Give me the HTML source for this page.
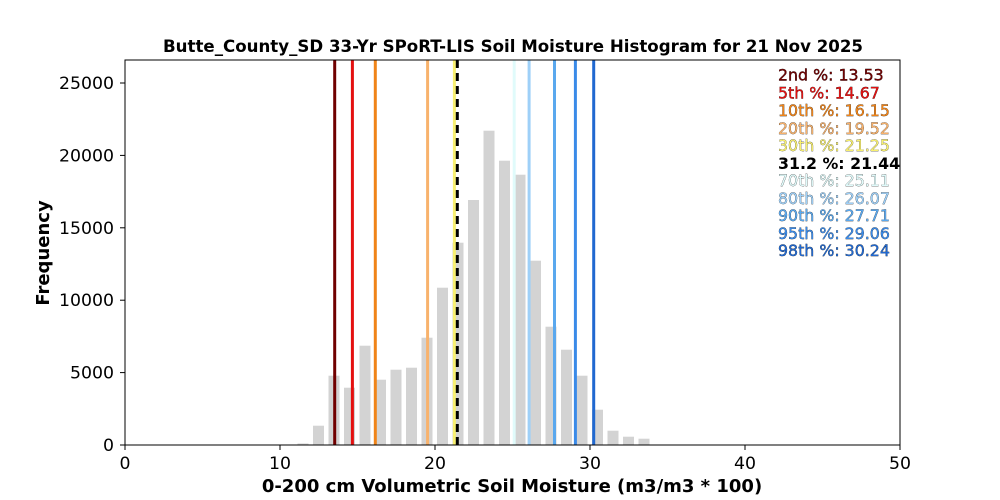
<!DOCTYPE html>
<html><head><meta charset="utf-8"><style>body{margin:0;background:#fff}svg{display:block;font-family:"DejaVu Sans","Liberation Sans",sans-serif}</style></head><body>
<svg width="1000" height="500" viewBox="0 0 1000 500">
<rect width="1000" height="500" fill="#fff"/>
<text x="513" y="52" text-anchor="middle" font-size="16.6" font-weight="bold" textLength="700" lengthAdjust="spacingAndGlyphs">Butte_County_SD 33-Yr SPoRT-LIS Soil Moisture Histogram for 21 Nov 2025</text>
<g fill="#d3d3d3">
<rect x="297.5" y="443.5" width="11" height="1.5"/>
<rect x="313" y="425.7" width="11" height="19.3"/>
<rect x="328.5" y="375.7" width="11" height="69.3"/>
<rect x="344" y="387.7" width="11" height="57.3"/>
<rect x="359.5" y="345.7" width="11" height="99.3"/>
<rect x="375" y="379.7" width="11" height="65.3"/>
<rect x="390.5" y="369.7" width="11" height="75.3"/>
<rect x="406" y="367.7" width="11" height="77.3"/>
<rect x="421.5" y="337.7" width="11" height="107.3"/>
<rect x="437" y="287.7" width="11" height="157.3"/>
<rect x="452.5" y="242.7" width="11" height="202.3"/>
<rect x="468" y="200" width="11" height="245"/>
<rect x="483.5" y="130.7" width="11" height="314.3"/>
<rect x="499" y="160.7" width="11" height="284.3"/>
<rect x="514.5" y="174.7" width="11" height="270.3"/>
<rect x="530" y="260.7" width="11" height="184.3"/>
<rect x="545.5" y="326.7" width="11" height="118.3"/>
<rect x="561" y="349.7" width="11" height="95.3"/>
<rect x="576.5" y="375.7" width="11" height="69.3"/>
<rect x="592" y="409.7" width="11" height="35.3"/>
<rect x="607.5" y="430.7" width="11" height="14.3"/>
<rect x="623" y="436.7" width="11" height="8.3"/>
<rect x="638.5" y="438.7" width="11" height="6.3"/>
</g>
<g stroke-width="3">
<line x1="334.7" y1="60" x2="334.7" y2="445" stroke="#700000"/>
<line x1="352.4" y1="60" x2="352.4" y2="445" stroke="#e41010"/>
<line x1="375.3" y1="60" x2="375.3" y2="445" stroke="#f08418"/>
<line x1="427.6" y1="60" x2="427.6" y2="445" stroke="#f8b26c"/>
<line x1="454.4" y1="60" x2="454.4" y2="445" stroke="#f8f070"/>
<line x1="457.3" y1="60" x2="457.3" y2="445" stroke="#000" stroke-dasharray="8,5"/>
<line x1="514.2" y1="60" x2="514.2" y2="445" stroke="#e0fbfb"/>
<line x1="529.1" y1="60" x2="529.1" y2="445" stroke="#9ed0f8"/>
<line x1="554.5" y1="60" x2="554.5" y2="445" stroke="#5aa8ee"/>
<line x1="575.4" y1="60" x2="575.4" y2="445" stroke="#3a8ae8"/>
<line x1="593.7" y1="60" x2="593.7" y2="445" stroke="#2068d0"/>
</g>
<rect x="125" y="60" width="775" height="385" fill="none" stroke="#000" stroke-width="1"/>
<g stroke="#000" stroke-width="1">
<line x1="125" y1="445" x2="125" y2="450"/><line x1="280" y1="445" x2="280" y2="450"/><line x1="435" y1="445" x2="435" y2="450"/><line x1="590" y1="445" x2="590" y2="450"/><line x1="745" y1="445" x2="745" y2="450"/><line x1="900" y1="445" x2="900" y2="450"/>
<line x1="120" y1="445" x2="125" y2="445"/><line x1="120" y1="372.6" x2="125" y2="372.6"/><line x1="120" y1="300.2" x2="125" y2="300.2"/><line x1="120" y1="227.8" x2="125" y2="227.8"/><line x1="120" y1="155.4" x2="125" y2="155.4"/><line x1="120" y1="83" x2="125" y2="83"/>
</g>
<g font-size="17.3" text-anchor="middle">
<text x="125" y="469">0</text><text x="280" y="469">10</text><text x="435" y="469">20</text><text x="590" y="469">30</text><text x="745" y="469">40</text><text x="900" y="469">50</text>
</g>
<g font-size="17.3" text-anchor="end">
<text x="114" y="451">0</text><text x="114" y="378.6">5000</text><text x="114" y="306.2">10000</text><text x="114" y="233.8">15000</text><text x="114" y="161.4">20000</text><text x="114" y="89">25000</text>
</g>
<text x="512" y="492" text-anchor="middle" font-size="18" font-weight="bold">0-200 cm Volumetric Soil Moisture (m3/m3 * 100)</text>
<text transform="translate(49,253) rotate(-90)" text-anchor="middle" font-size="18" font-weight="bold">Frequency</text>
<g font-size="15.8" stroke="#000" stroke-width="0.4" paint-order="stroke">
<text x="778" y="80.5" fill="#700000">2nd %: 13.53</text>
<text x="778" y="98.5" fill="#e41010">5th %: 14.67</text>
<text x="778" y="116" fill="#f08418">10th %: 16.15</text>
<text x="778" y="134" fill="#f8b26c">20th %: 19.52</text>
<text x="778" y="151" fill="#f8f070">30th %: 21.25</text>
<text x="778" y="169" fill="#000" font-weight="bold" stroke="none">31.2 %: 21.44</text>
<text x="778" y="186" fill="#e0fbfb">70th %: 25.11</text>
<text x="778" y="204" fill="#9ed0f8">80th %: 26.07</text>
<text x="778" y="221" fill="#5aa8ee">90th %: 27.71</text>
<text x="778" y="239" fill="#3a8ae8">95th %: 29.06</text>
<text x="778" y="256" fill="#2068d0">98th %: 30.24</text>
</g>
</svg>
</body></html>
